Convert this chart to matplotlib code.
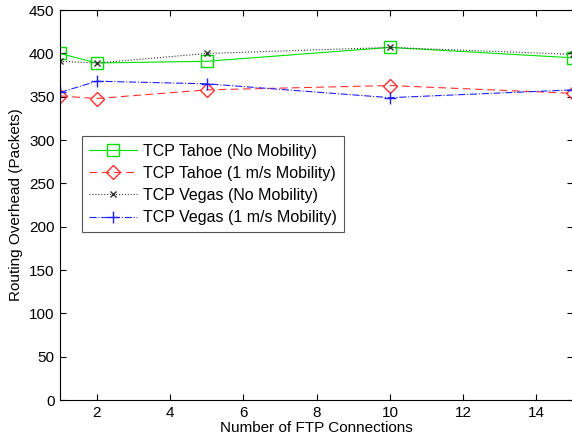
import matplotlib
matplotlib.use('Agg')
import matplotlib.pyplot as plt

plt.rcParams['font.family'] = ['Liberation Sans', 'DejaVu Sans']

connections = [1, 2, 5, 10, 15]
tahoe_no_mob = [400, 389, 391, 407, 395]
tahoe_1ms = [351, 348, 358, 363, 354]
vegas_no_mob = [391, 389, 400, 407, 399]
vegas_1ms = [355, 368, 365, 349, 358]

fig = plt.figure(figsize=(5.72, 4.42), dpi=100)
ax = fig.add_axes([0.105, 0.095, 0.897, 0.882])

ax.plot(connections, tahoe_no_mob, '-', color='#00e000', marker='s', markersize=8,
        markerfacecolor='none', linewidth=0.8, label='TCP Tahoe (No Mobility)')
ax.plot(connections, tahoe_1ms, '--', color='#ff3030', marker='D', markersize=7,
        markerfacecolor='none', linewidth=0.8, dashes=(7, 4), label='TCP Tahoe (1 m/s Mobility)')
ax.plot(connections, vegas_no_mob, ':', color='#333333', marker='x', markersize=4,
        linewidth=0.8, label='TCP Vegas (No Mobility)')
ax.plot(connections, vegas_1ms, '-.', color='#2020ff', marker='+', markersize=9,
        linewidth=0.8, label='TCP Vegas (1 m/s Mobility)')

ax.set_xlim(1, 15)
ax.set_ylim(0, 450)
ax.set_xticks(range(2, 15, 2))
ax.set_yticks(range(0, 451, 50))
ax.tick_params(direction='in', labelsize=11, top=True, right=True, length=4, pad=4)
ax.set_xlabel('Number of FTP Connections', fontsize=11, labelpad=1)
ax.set_ylabel('Routing Overhead (Packets)', fontsize=11, labelpad=4)

leg = ax.legend(loc='upper left', bbox_to_anchor=(0.043, 0.676), fontsize=11.5,
                fancybox=False, framealpha=1, edgecolor='#555555',
                handlelength=3.0, borderaxespad=0, labelspacing=0.45,
                borderpad=0.45, handletextpad=0.35)
leg.get_frame().set_linewidth(0.8)

fig.savefig('out.png', dpi=100)
